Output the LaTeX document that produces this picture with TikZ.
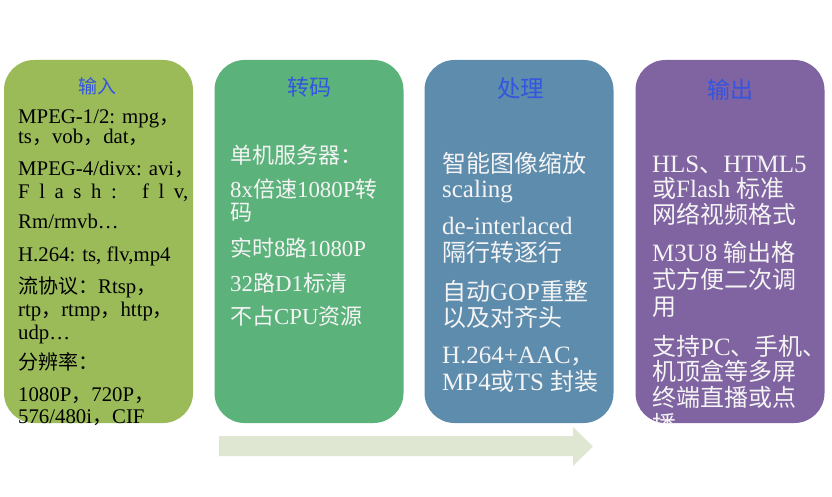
\documentclass[tikz,border=0pt]{standalone}
\usepackage{fontspec}
\setmainfont{Liberation Serif}[Scale=1.04]
\newfontfamily\cjk{Noto Sans CJK SC}
\newcommand\zh[1]{{\cjk #1}}
\definecolor{cin}{HTML}{9BBB59}
\definecolor{ctr}{HTML}{5CB27B}
\definecolor{cpr}{HTML}{5E8CAD}
\definecolor{cout}{HTML}{8063A1}
\definecolor{carrow}{HTML}{DFE7D2}
\definecolor{ctitle}{HTML}{3355E0}
\definecolor{cwhite}{HTML}{F4F4F4}
\begin{document}
\begin{tikzpicture}[x=1pt,y=-1pt,
  box/.style={rounded corners=30pt, minimum width=189pt, minimum height=363pt, inner sep=0pt, draw=none},
  ttl/.style={anchor=center, inner sep=0pt, text=ctitle},
  la/.style={anchor=base west, inner sep=0pt, text=black, font={\fontsize{20}{24}\selectfont}},
  lb/.style={anchor=base west, inner sep=0pt, text=cwhite, font={\fontsize{22}{26}\selectfont}},
  lc/.style={anchor=base west, inner sep=0pt, text=cwhite, font={\fontsize{24}{28}\selectfont}}]
\useasboundingbox (0,0) rectangle (832,497);
% boxes
\node[box, fill=cin]  (bin)  at (98.5,241.5) {};
\node[box, fill=ctr]  (btr)  at (309,241.5) {};
\node[box, fill=cpr]  (bpr)  at (519,241.5) {};
\node[box, fill=cout] (bout) at (730,241.5) {};
% arrow
\fill[carrow] (219,436) -- (573,436) -- (573,427) -- (593,446.5) -- (573,466) -- (573,456) -- (219,456) -- cycle;
% titles
\node[ttl, font={\fontsize{19}{22}\selectfont}] (tin) at (97.5,86) {\zh{输入}};
\node[ttl, font={\fontsize{22}{26}\selectfont}] (ttr) at (309,87) {\zh{转码}};
\node[ttl, font={\fontsize{23.5}{27}\selectfont}] (tpr) at (520.5,89) {\zh{处理}};
\node[ttl, font={\fontsize{23}{27}\selectfont}] (tout) at (730,89.5) {\zh{输出}};
% box 1
\node[la] (a1) at (18,124) {MPEG-1/2: mpg\zh{，}};
\node[la] (a2) at (18,144) {ts\zh{，}vob\zh{，}dat\zh{，}};
\node[la] (a3) at (18,176) {\makebox[176pt][s]{MPEG-4/divx: avi\zh{，}}};
\node[la] (a4) at (18,199) {\makebox[170pt][s]{F l a s h : \ f l v,}};
\node[la] (a5) at (18,229) {Rm/rmvb…};
\node[la] (a6) at (18,261) {H.264: ts, flv,mp4};
\node[la] (a7) at (18,293) {\zh{流协议：}Rtsp\zh{，}};
\node[la] (a8) at (18,316) {rtp\zh{，}rtmp\zh{，}http\zh{，}};
\node[la] (a9) at (18,339) {udp…};
\node[la] (a10) at (18,369) {\zh{分辨率：}};
\node[la] (a11) at (18,401) {1080P\zh{，}720P\zh{，}};
\node[la] (a12) at (18,423) {576/480i\zh{，}CIF};
% box 2
\node[lb] (b1) at (230,163.5) {\zh{单机服务器：}};
\node[lb] (b2) at (230,197) {8x\zh{倍速}1080P\zh{转}};
\node[lb] (b3) at (230,220) {\zh{码}};
\node[lb] (b4) at (230,256) {\zh{实时}8\zh{路}1080P};
\node[lb] (b5) at (230,291) {32\zh{路}D1\zh{标清}};
\node[lb] (b6) at (230,324) {\zh{不占}CPU\zh{资源}};
% box 3
\node[lc] (c1) at (442,172.5) {\zh{智能图像缩放}};
\node[lc] (c2) at (442,197) {scaling};
\node[lc] (c3) at (442,234) {de-interlaced};
\node[lc] (c4) at (442,261.5) {\zh{隔行转逐行}};
\node[lc] (c5) at (442,300.7) {\zh{自动}GOP\zh{重整}};
\node[lc] (c6) at (442,326.5) {\zh{以及对齐头}};
\node[lc] (c7) at (442,363) {H.264+AAC\zh{，}};
\node[lc] (c8) at (442,390.7) {MP4\zh{或}TS \zh{封装}};
% box 4
\node[lc] (d1) at (652,172.7) {HLS\zh{、}HTML5};
\node[lc] (d2) at (652,197) {\zh{或}Flash \zh{标准}};
\node[lc] (d3) at (652,223.5) {\zh{网络视频格式}};
\node[lc] (d4) at (652,261.7) {M3U8 \zh{输出格}};
\node[lc] (d5) at (652,288.5) {\zh{式方便二次调}};
\node[lc] (d6) at (652,315) {\zh{用}};
\node[lc] (d7) at (652,355) {\zh{支持}PC\zh{、手机、}};
\node[lc] (d8) at (652,380) {\zh{机顶盒等多屏}};
\node[lc] (d9) at (652,406.5) {\zh{终端直播或点}};
\begin{scope}
\clip (636,60) rectangle (824,422);
\node[lc] (d10) at (652,433) {\zh{播}};
\end{scope}
\end{tikzpicture}
\end{document}
